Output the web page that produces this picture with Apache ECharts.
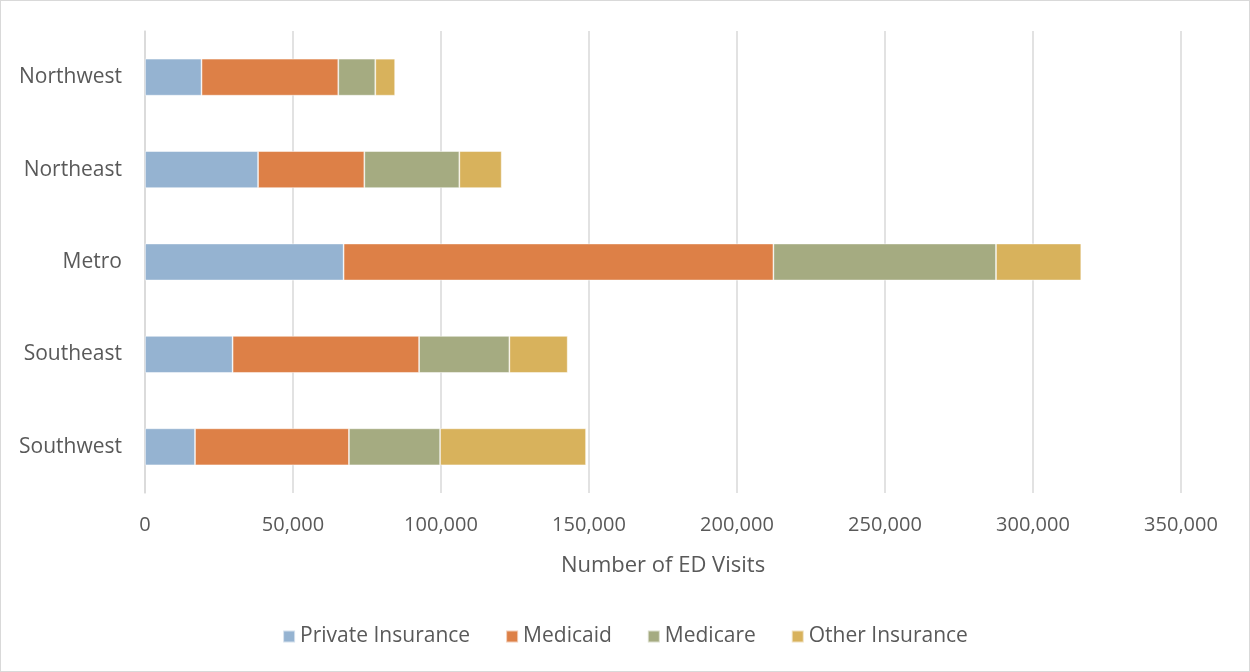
<!DOCTYPE html>
<html>
<head>
<meta charset="utf-8">
<script src="https://cdn.jsdelivr.net/npm/echarts@6/dist/echarts.min.js"></script>
<style>
html,body{margin:0;padding:0;background:#fff;}
#frame{position:absolute;left:0;top:0;width:1248px;height:670px;border:1px solid #d9d9d9;}
#chart{width:1250px;height:672px;position:absolute;left:0;top:0;}
</style>
</head>
<body>
<div id="frame"></div>
<div id="chart"></div>
<script>
const categories = ['Southwest', 'Southeast', 'Metro', 'Northeast', 'Northwest'];
const privateInsurance = [16900, 29600, 67100, 38200, 19100];
const medicaid = [52000, 63000, 145200, 35900, 46200];
const medicare = [30800, 30500, 75200, 32100, 12500];
const otherInsurance = [49300, 19700, 28800, 14300, 6700];
const xTicks = [0, 50000, 100000, 150000, 200000, 250000, 300000, 350000];

const font = '"Open Sans", sans-serif';
const colors = ['#95b3d1', '#dd8047', '#a5ab81', '#d8b25c'];
const names = ['Private Insurance', 'Medicaid', 'Medicare', 'Other Insurance'];
const datasets = [privateInsurance, medicaid, medicare, otherInsurance];

const chart = echarts.init(document.getElementById('chart'));
chart.setOption({
  animation: false,
  color: colors,
  grid: { left: 145, right: 69, top: 31, bottom: 179, containLabel: false },
  legend: {
    bottom: 20,
    left: 'center',
    itemWidth: 12,
    itemHeight: 12,
    itemGap: 35,
    icon: 'rect',
    textStyle: { color: '#595959', fontSize: 21, fontFamily: font },
    data: names
  },
  xAxis: {
    type: 'value',
    min: xTicks[0],
    max: xTicks[xTicks.length - 1],
    interval: 50000,
    name: 'Number of ED Visits',
    nameLocation: 'middle',
    nameGap: 62,
    nameTextStyle: { color: '#595959', fontSize: 22, fontFamily: font },
    axisLine: { show: false },
    axisTick: { show: false },
    axisLabel: {
      color: '#595959', fontSize: 20, fontFamily: font, margin: 22,
      formatter: v => v.toLocaleString('en-US')
    },
    splitLine: { show: true, lineStyle: { color: '#d9d9d9', width: 1.5 } }
  },
  yAxis: {
    type: 'category',
    data: categories,
    axisLine: { show: true, lineStyle: { color: '#d9d9d9', width: 1.5 } },
    axisTick: { show: false },
    axisLabel: { color: '#595959', fontSize: 21, fontFamily: font, margin: 23, padding: [3, 0, 0, 0] }
  },
  series: datasets.map((d, i) => ({
    name: names[i],
    type: 'bar',
    stack: 'total',
    data: d,
    barWidth: '40%',
    itemStyle: { color: colors[i], borderColor: 'rgba(255,255,255,0.6)', borderWidth: 0.8 }
  }))
});
</script>
</body>
</html>
